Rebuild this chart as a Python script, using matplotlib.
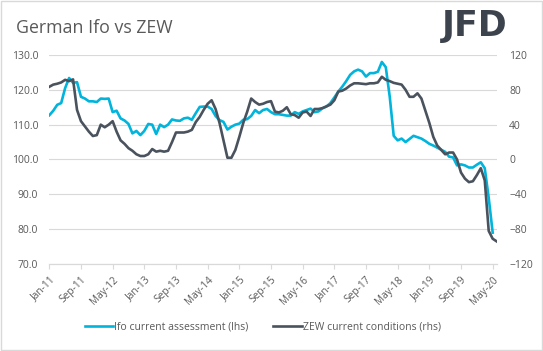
import numpy as np
import matplotlib
matplotlib.use("Agg")
import matplotlib.pyplot as plt
from matplotlib.patches import Rectangle

plt.rcParams['font.family'] = ['Open Sans', 'DejaVu Sans']

# monthly values, Jan-11 onwards (category axis)
ifo = [112.7, 114.0, 115.7, 116.2, 120.5, 123.4, 122.0, 122.2, 118.0, 117.5,
       116.7, 116.7, 116.5, 117.5, 117.4, 117.5, 113.6, 114.0, 111.8, 111.2,
       110.2, 107.5, 108.2, 107.0, 108.2, 110.2, 110.0, 107.3, 110.0, 109.3,
       110.0, 111.5, 111.2, 111.1, 111.8, 112.0, 111.4, 113.3, 115.1, 115.2,
       115.2, 114.5, 112.5, 111.3, 110.8, 108.6, 109.4, 110.0, 110.3, 111.4,
       111.6, 112.5, 114.2, 113.3, 114.2, 114.5, 113.6, 113.0, 113.0, 112.8,
       112.6, 112.6, 113.6, 113.1, 113.8, 114.2, 114.6, 113.6, 113.8, 114.7,
       115.2, 116.2, 117.8, 119.5, 120.9, 122.5, 124.3, 125.3, 125.8, 125.3,
       123.8, 124.8, 124.8, 125.2, 128.0, 126.5, 118.0, 106.8, 105.5, 106.0,
       105.0, 105.9, 106.8, 106.4, 106.0, 105.3, 104.5, 104.0, 103.4, 102.8,
       102.2, 100.8, 100.6, 98.3, 98.6, 98.3, 97.7, 97.7, 98.5, 99.2,
       97.5, 89.0, 79.0]
zew = [83.5, 86.0, 87.0, 88.5, 91.5, 90.0, 92.0, 57.0, 44.0, 38.0,
       32.0, 27.0, 28.0, 40.0, 37.0, 40.0, 44.0, 32.0, 22.0, 18.0,
       13.0, 10.0, 6.0, 4.0, 4.0, 6.0, 12.0, 9.0, 10.0, 9.0,
       10.0, 20.0, 31.0, 31.0, 31.0, 32.0, 34.0, 43.0, 49.0, 57.0,
       64.0, 68.0, 58.0, 42.0, 22.0, 2.0, 2.0, 11.0, 26.0, 42.0,
       55.0, 70.0, 66.0, 63.0, 64.0, 66.0, 67.0, 55.0, 54.0, 56.0,
       60.0, 52.0, 51.0, 48.0, 54.0, 55.0, 50.0, 58.0, 58.0, 59.0,
       61.0, 63.0, 68.0, 78.0, 79.0, 81.5, 85.0, 87.5, 87.5, 87.0,
       86.5, 87.5, 87.5, 88.5, 95.0, 91.5, 90.0, 88.0, 87.0, 86.0,
       80.0, 72.0, 72.0, 76.0, 70.0, 56.0, 42.0, 26.0, 16.0, 11.0,
       6.0, 8.0, 8.0, 0.0, -15.0, -22.0, -26.0, -25.0, -18.0, -10.0,
       -24.0, -82.0, -91.0, -94.0]
tick_labels = ["Jan-11", "Sep-11", "May-12", "Jan-13", "Sep-13", "May-14",
               "Jan-15", "Sep-15", "May-16", "Jan-17", "Sep-17", "May-18",
               "Jan-19", "Sep-19", "May-20"]

cyan = "#00b4dc"
dark = "#4a535d"
grey_txt = "#595959"
grid_c = "#d9d9d9"

fig = plt.figure(figsize=(5.43, 3.51), dpi=100)
fig.patches.append(Rectangle((0.001, 0.002), 0.997, 0.995, transform=fig.transFigure,
                             fill=False, edgecolor=grid_c, linewidth=1))

ax = fig.add_axes([0.0908, 0.2479, 0.8238, 0.5954])
ax2 = ax.twinx()

l1, = ax.plot(np.arange(len(ifo)), ifo, color=cyan, lw=1.9,
              label="Ifo current assessment (lhs)", zorder=3)
l2, = ax2.plot(np.arange(len(zew)), zew, color=dark, lw=1.9,
               label="ZEW current conditions (rhs)", zorder=3)

ax.set_xlim(0, len(zew) - 1)
ax.set_ylim(70, 130)
ax2.set_ylim(-120, 120)
ax.set_yticks(np.arange(70, 131, 10))
ax.set_yticklabels([f"{v:.1f}" for v in np.arange(70, 131, 10)])
ax2.set_yticks(np.arange(-120, 121, 40))
ax.set_xticks(np.arange(0, len(zew), 8))
ax.set_xticklabels(tick_labels, rotation=45, ha='right', va='top',
                   rotation_mode='anchor')

ax.grid(axis='y', color=grid_c, lw=0.8)
ax.set_axisbelow(True)
for a in (ax, ax2):
    for s in ("top", "left", "right"):
        a.spines[s].set_visible(False)
    a.spines["bottom"].set_color(grid_c)
ax.tick_params(axis='y', length=0, pad=8, labelsize=7.5, labelcolor=grey_txt)
ax2.tick_params(axis='y', length=0, pad=9, labelsize=7.5, labelcolor=grey_txt)
ax.tick_params(axis='x', length=3.5, color=grid_c, pad=4, labelsize=7.3,
               labelcolor=grey_txt)

fig.text(0.0295, 0.905, "German Ifo vs ZEW", fontsize=12.8, color=grey_txt,
         ha='left', va='baseline')
fig.text(0.934, 0.898, "JFD", fontsize=25, fontweight='bold', color="#3c434c",
         ha='right', va='baseline', family='DejaVu Sans')

fig.legend(handles=[l1, l2], loc='center', bbox_to_anchor=(0.484, 0.068),
           ncol=2, frameon=False, fontsize=7.5, handlelength=2.7,
           handletextpad=0.1, columnspacing=2.4, labelcolor=grey_txt)

fig.savefig("out.png", dpi=100)
